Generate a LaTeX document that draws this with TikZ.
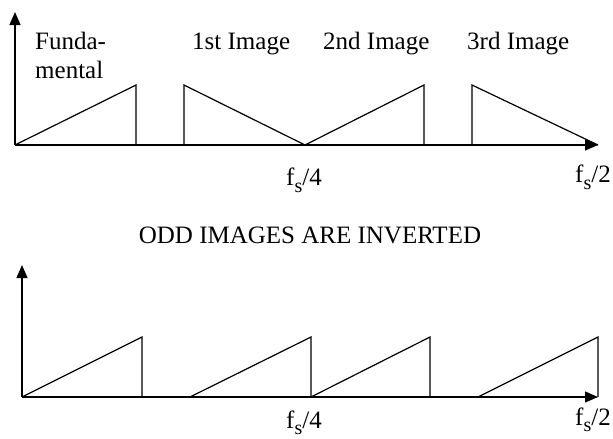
\documentclass[tikz,border=0pt]{standalone}
\usepackage{fontspec}
\setmainfont{Liberation Serif}
\usetikzlibrary{arrows.meta}
\newcommand{\fsub}{f\raisebox{-0.3em}{\fontsize{20}{20}\selectfont s}}
\begin{document}
\begin{tikzpicture}[x=1pt,y=-1pt,
  axis/.style={line width=1.3pt,-{Triangle[length=13pt,width=11pt]}},
  wave/.style={line width=1.2pt,line join=miter},
  lbl/.style={font=\fontsize{25}{30}\selectfont,inner sep=0pt,anchor=base west}]
\useasboundingbox (0,0) rectangle (613,439);
% top plot
\coordinate (o1) at (15,145);
\coordinate (y1) at (15,12);
\coordinate (x1) at (598,145);
\draw[axis] (o1) -- (y1);
\draw[axis] (o1) -- (x1);
\draw[wave] (o1) -- (136,85) -- (136,145);
\draw[wave] (184,145) -- (184,85) -- (305,145);
\draw[wave] (305,145) -- (424,85) -- (424,145);
\draw[wave] (472,145) -- (472,85) -- (x1);
\node[lbl] (funda) at (35,49) {Funda-};
\node[lbl] (mental) at (35,78) {mental};
\node[lbl] (im1) at (192,49) {1st Image};
\node[lbl] (im2) at (323,49) {2nd Image};
\node[lbl] (im3) at (467,49) {3rd Image};
\node[lbl] (fq1) at (286,185) {\fsub/4};
\node[lbl] (fh1) at (575,182) {\fsub/2};
\node[lbl,anchor=base] (odd) at (310,243) {ODD IMAGES ARE INVERTED};
% bottom plot
\coordinate (o2) at (22,397);
\coordinate (y2) at (22,265);
\coordinate (x2) at (598,397);
\draw[axis] (o2) -- (y2);
\draw[axis] (o2) -- (x2);
\draw[wave] (o2) -- (142,337) -- (142,397);
\draw[wave] (190,397) -- (311,337) -- (311,397);
\draw[wave] (311,397) -- (430,337) -- (430,397);
\draw[wave] (478,397) -- (598,337) -- (x2);
\node[lbl] (fq2) at (286,428) {f\raisebox{-0.25em}{\fontsize{20}{20}\selectfont s}/4};
\node[lbl] (fh2) at (575,425) {f\raisebox{-0.25em}{\fontsize{20}{20}\selectfont s}/2};
\end{tikzpicture}
\end{document}
